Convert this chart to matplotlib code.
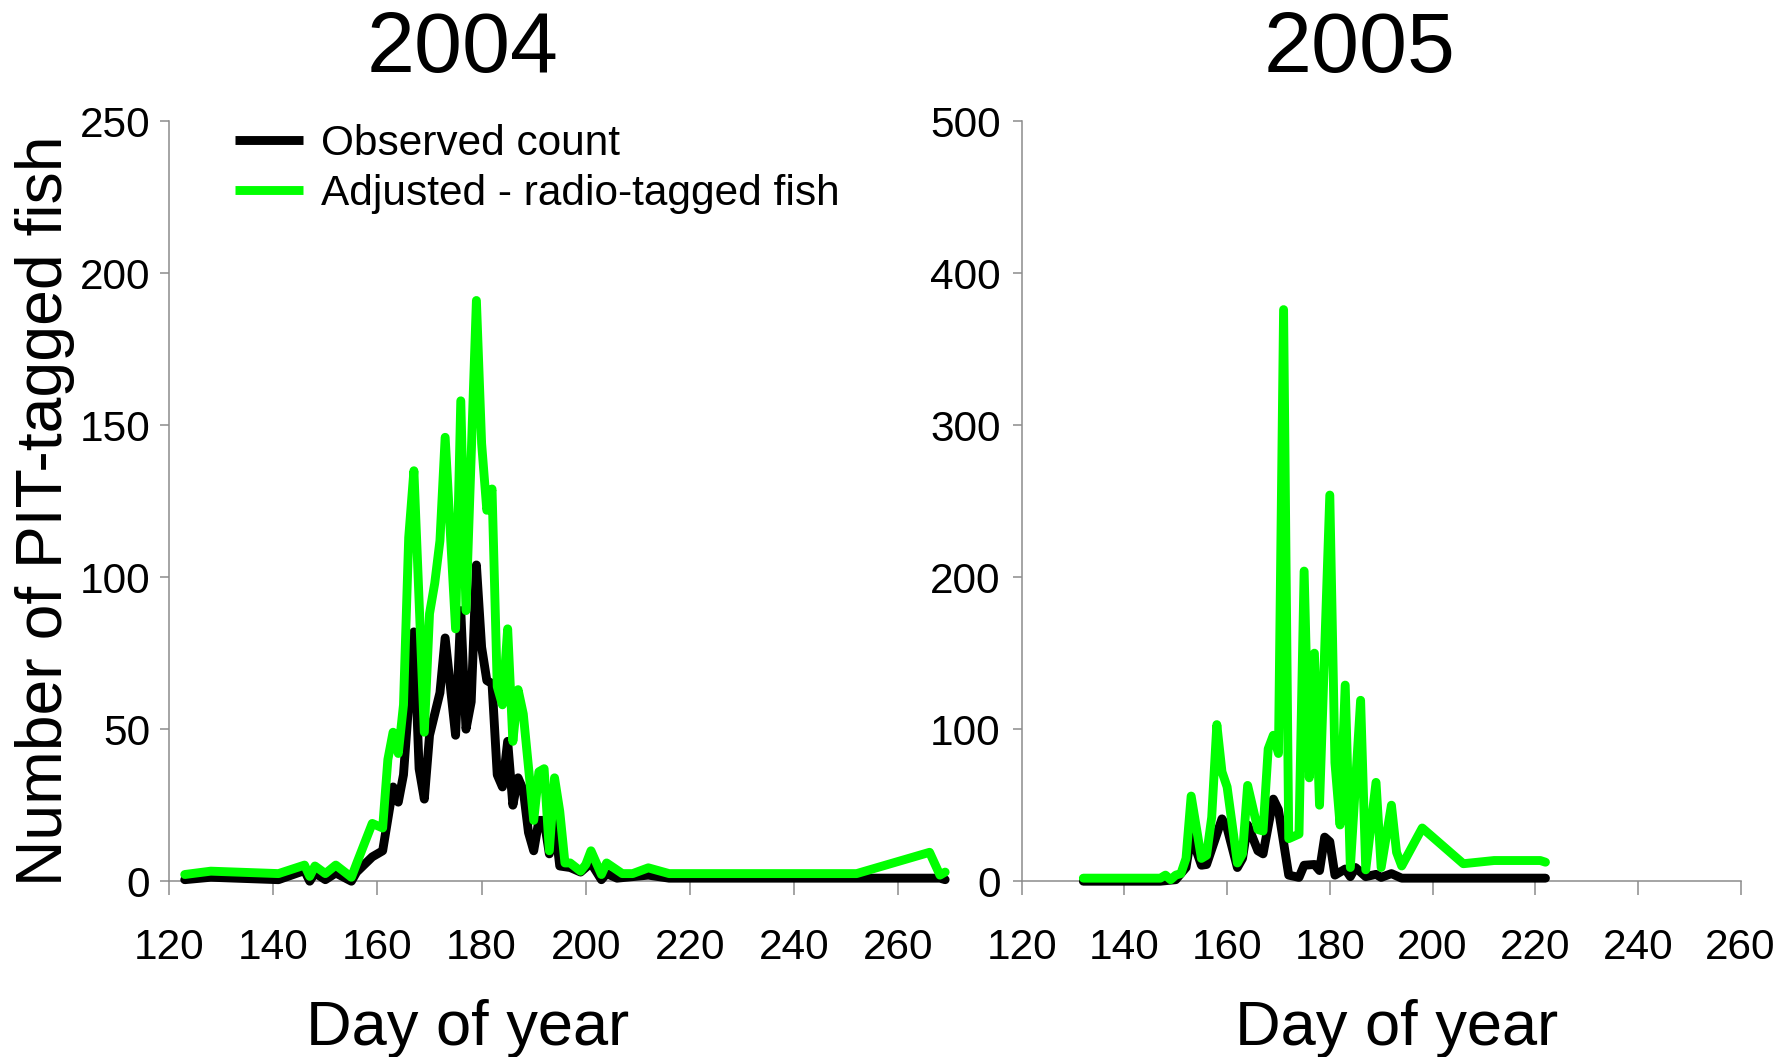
import matplotlib
matplotlib.use("Agg")
import matplotlib.pyplot as plt
from matplotlib.ticker import MultipleLocator

plt.rcParams['font.family'] = ['Liberation Sans', 'DejaVu Sans']

# ---------------- data ----------------
# 2004
days_obs_04 = [123, 128, 141, 146, 147, 148, 150, 152, 155, 156, 159, 161, 163, 164, 165,
               167, 168, 169, 170, 172, 173, 175, 176, 177, 178, 179, 180, 181, 182, 183,
               184, 185, 186, 187, 188, 189, 190, 191, 192, 193, 194, 195, 197, 199, 201,
               203, 204, 206, 212, 216, 268, 269]
obs_04 = [0.5, 1.3, 0.5, 3.5, 0, 2.7, 0.5, 2.7, 0, 3, 8, 10, 31, 26, 35,
          82, 37, 27, 48, 62, 80, 48, 89, 50, 59, 104, 77, 66, 65, 35,
          31, 46, 25, 34, 30, 16, 10, 20, 20, 9, 20, 5, 4.5, 3, 6,
          0.5, 2.5, 1, 2, 1, 1, 0.5]

days_adj_04 = [123, 128, 141, 146, 147, 148, 150, 152, 155, 156, 159, 161, 162, 163, 164,
               165, 166, 167, 169, 170, 171, 172, 173, 175, 176, 177, 179, 180, 181, 182,
               183, 184, 185, 186, 187, 188, 190, 191, 192, 193, 194, 195, 196, 197, 199,
               200, 201, 203, 204, 207, 209, 212, 216, 252, 266, 268, 269]
adj_04 = [2.2, 3.3, 2.5, 5.3, 1.6, 5, 2.5, 5.3, 1.3, 5.8, 19, 17.5, 40, 49, 42,
          58, 113, 135, 49, 88, 98, 112, 146, 83, 158, 89, 191, 144, 122, 129,
          64, 58, 83, 46, 63, 55, 20, 36, 37, 10, 34, 23, 6, 6, 3.3,
          5.5, 10, 2.2, 6, 2.5, 2.5, 4.4, 2.5, 2.5, 9.5, 2, 3]

# 2005
days_obs_05 = [132, 147, 150, 152, 153, 155, 156, 157, 159, 160, 162, 163, 164, 166, 167,
               169, 170, 172, 174, 175, 177, 178, 179, 180, 181, 183, 184, 185, 187, 189,
               190, 192, 194, 222]
obs_05 = [0, 0, 1, 9, 30, 10.5, 11, 21, 41, 35, 9, 15, 37, 20, 18,
          54, 47, 4, 2.5, 10.5, 11, 7, 29, 26, 4, 8, 3, 9, 3, 4.5,
          2.5, 5, 2, 2]

days_adj_05 = [132, 147, 148, 149, 150, 151, 152, 153, 155, 156, 157, 158, 159, 160, 162,
               163, 164, 166, 167, 168, 169, 170, 171, 172, 174, 175, 176, 177, 178, 180,
               181, 182, 183, 184, 186, 187, 189, 190, 192, 193, 194, 198, 206, 212, 221,
               222]
adj_05 = [2, 2, 4, 1, 4, 5, 15, 56, 15, 17, 42, 103, 72, 62, 12,
          18, 63, 34, 33, 87, 96, 84, 376, 28, 31, 204, 68, 150, 50, 254,
          78, 37, 129, 9, 119, 7.5, 65, 9, 50, 19, 10, 35, 11.5, 13.6, 13.6,
          12.5]

x_ticks = [120, 140, 160, 180, 200, 220, 240, 260]
titles = ["2004", "2005"]
series_labels = ["Observed count", "Adjusted - radio-tagged fish"]

# ---------------- figure ----------------
W, H = 1792, 1057
fig = plt.figure(figsize=(W / 100, H / 100), dpi=100)

def fx(px):
    return px / W

def fy(py):
    return 1 - py / H

ax1 = fig.add_axes([fx(169.1), fy(881.2), fx(898.3) - fx(169.1), fy(121.1) - fy(881.2)])
ax2 = fig.add_axes([fx(1021.7), fy(881.2), fx(1740.6) - fx(1021.7), fy(121.1) - fy(881.2)])

LW = 6.4
GREEN = "#00FF00"
line_kw = dict(solid_joinstyle="round", solid_capstyle="round", clip_on=False)

ax1.plot(days_obs_04, obs_04, color="black", lw=LW, zorder=3, label=series_labels[0], **line_kw)
ax1.plot(days_adj_04, adj_04, color=GREEN, lw=LW, zorder=4, label=series_labels[1], **line_kw)
ax2.plot(days_obs_05, obs_05, color="black", lw=LW, zorder=3, **line_kw)
ax2.plot(days_adj_05, adj_05, color=GREEN, lw=LW, zorder=4, **line_kw)

SPINE = "#8c8c8c"
for ax, ymax, ystep, ypad in [(ax1, 250, 50, 7), (ax2, 500, 100, 8.5)]:
    ax.set_xlim(120, 260)
    ax.set_ylim(0, ymax)
    ax.set_xticks(x_ticks)
    ax.yaxis.set_major_locator(MultipleLocator(ystep))
    for s in ["top", "right"]:
        ax.spines[s].set_visible(False)
    for s in ["left", "bottom"]:
        ax.spines[s].set_color(SPINE)
        ax.spines[s].set_linewidth(1.1)
        ax.spines[s].set_zorder(1)
    ax.tick_params(axis="x", direction="out", length=10, width=1.1, color=SPINE,
                   labelsize=30.5, pad=24)
    ax.tick_params(axis="y", direction="out", length=6.5, width=1.1, color=SPINE,
                   labelsize=30.5, pad=ypad)
    ax.set_facecolor("none")

fig.text(fx(463), fy(50), titles[0], ha="center", va="center", fontsize=62)
fig.text(fx(1360), fy(50), titles[1], ha="center", va="center", fontsize=62)

fig.text(fx(468), fy(1029), "Day of year", ha="center", va="center", fontsize=45.5)
fig.text(fx(1397), fy(1029), "Day of year", ha="center", va="center", fontsize=45.5)
fig.text(fx(45), fy(511), "Number of PIT-tagged fish", ha="center", va="center",
         rotation=90, fontsize=46.3)

leg = ax1.legend(loc="upper left", bbox_to_anchor=(fx(235), fy(124)),
                 bbox_transform=fig.transFigure, frameon=False, fontsize=30.5,
                 handlelength=1.61, handletextpad=0.43, labelspacing=0.24,
                 borderpad=0, borderaxespad=0)
for h in leg.get_lines():
    h.set_linewidth(LW)
    h.set_solid_capstyle("butt")

fig.savefig("out.png", dpi=100)
